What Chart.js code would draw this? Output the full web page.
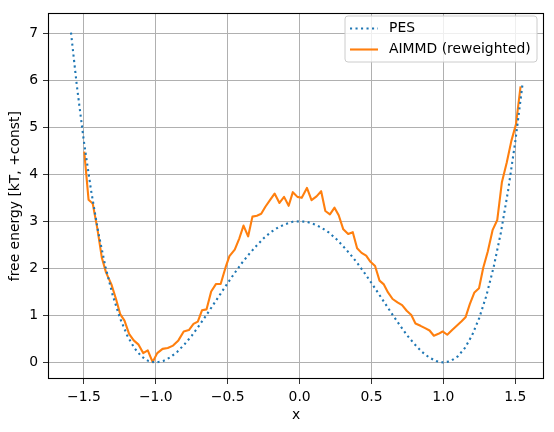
<!DOCTYPE html>
<html lang="en">

<head>
  <meta charset="UTF-8">
  <title>free energy</title>
  <style>
    body { margin: 0; background: #fff; }
  </style>
</head>

<body>
  <div style="width: 554px; height: 432px;">
    <canvas id="myChart" width="554" height="432"></canvas>
  </div>

  <script src="https://cdn.jsdelivr.net/npm/chart.js"></script>
  <script>
    // PES (dotted)
    const pesX = [-1.59, -1.55, -1.50, -1.45, -1.40, -1.35, -1.30, -1.25, -1.20, -1.15, -1.10, -1.05, -1.00,
      -0.95, -0.90, -0.85, -0.80, -0.75, -0.70, -0.65, -0.60, -0.55, -0.50, -0.45, -0.40, -0.35, -0.30,
      -0.25, -0.20, -0.15, -0.10, -0.05, 0.00, 0.05, 0.10, 0.15, 0.20, 0.25, 0.30, 0.35, 0.40, 0.45,
      0.50, 0.55, 0.60, 0.65, 0.70, 0.75, 0.80, 0.85, 0.90, 0.95, 1.00, 1.05, 1.10, 1.15, 1.20, 1.25,
      1.30, 1.35, 1.40, 1.45, 1.50, 1.55]
    const pesY = [7.01, 5.90, 4.69, 3.65, 2.76, 2.03, 1.43, 0.95, 0.58, 0.31, 0.13, 0.03, 0.00,
      0.03, 0.11, 0.23, 0.39, 0.57, 0.78, 1.00, 1.23, 1.46, 1.69, 1.91, 2.12, 2.31, 2.48,
      2.64, 2.77, 2.87, 2.94, 2.99, 3.00, 2.99, 2.94, 2.87, 2.77, 2.64, 2.48, 2.31, 2.12, 1.91,
      1.69, 1.46, 1.23, 1.00, 0.78, 0.57, 0.39, 0.23, 0.11, 0.03, 0.00, 0.03, 0.13, 0.31, 0.58, 0.95,
      1.43, 2.03, 2.76, 3.65, 4.69, 5.90]

    // AIMMD (reweighted)
    const aimmdX = [-1.498, -1.468, -1.439, -1.407, -1.375, -1.346, -1.309, -1.277, -1.248, -1.218, -1.186,
      -1.154, -1.120, -1.088, -1.056, -1.022, -0.990, -0.953, -0.917, -0.880, -0.843, -0.806, -0.770,
      -0.738, -0.708, -0.679, -0.647, -0.615, -0.581, -0.549, -0.512, -0.488, -0.451, -0.419, -0.390,
      -0.358, -0.328, -0.297, -0.267, -0.238, -0.206, -0.174, -0.140, -0.108, -0.076, -0.047, -0.015,
      0.015, 0.051, 0.083, 0.118, 0.150, 0.179, 0.211, 0.243, 0.272, 0.304, 0.338, 0.370, 0.400, 0.431,
      0.463, 0.493, 0.525, 0.556, 0.586, 0.615, 0.647, 0.681, 0.713, 0.745, 0.777, 0.806, 0.841, 0.873,
      0.904, 0.934, 0.966, 0.995, 1.027, 1.061, 1.093, 1.125, 1.154, 1.184, 1.216, 1.248, 1.277, 1.309,
      1.343, 1.375, 1.407, 1.441, 1.473, 1.505, 1.537]
    const aimmdY = [4.48, 3.46, 3.38, 2.85, 2.22, 1.91, 1.66, 1.35, 1.03, 0.89, 0.61,
      0.47, 0.38, 0.20, 0.26, 0.01, 0.20, 0.29, 0.31, 0.36, 0.47, 0.66, 0.69,
      0.82, 0.87, 1.11, 1.13, 1.51, 1.67, 1.67, 2.05, 2.26, 2.40, 2.64, 2.91,
      2.68, 3.10, 3.12, 3.16, 3.31, 3.45, 3.59, 3.39, 3.52, 3.33, 3.62, 3.52,
      3.50, 3.71, 3.45, 3.53, 3.64, 3.22, 3.15, 3.29, 3.13, 2.83, 2.73, 2.77, 2.43, 2.33,
      2.27, 2.14, 2.05, 1.74, 1.66, 1.49, 1.35, 1.28, 1.22, 1.10, 1.01, 0.83, 0.78, 0.73,
      0.68, 0.57, 0.61, 0.66, 0.59, 0.69, 0.78, 0.87, 0.96, 1.24, 1.49, 1.58, 2.01, 2.36,
      2.82, 3.03, 3.83, 4.25, 4.71, 5.06, 5.87]

    const xTicks = [-1.5, -1.0, -0.5, 0.0, 0.5, 1.0, 1.5]
    const yTicks = [0, 1, 2, 3, 4, 5, 6, 7]

    const FONT = { family: 'DejaVu Sans', size: 13.9 }
    const fmt = (v, d) => v.toFixed(d).replace('-', '\u2212')

    // box around the axes + matplotlib-like legend
    const framePlugin = {
      id: 'frame',
      afterDatasetsDraw(chart) {
        const { ctx, chartArea: a } = chart
        ctx.save()
        ctx.strokeStyle = '#000'
        ctx.lineWidth = 1.1
        ctx.strokeRect(Math.round(a.left) + 0.5, Math.round(a.top) + 0.5,
          Math.round(a.right - a.left) - 1, Math.round(a.bottom - a.top) - 1)

        // legend
        const bx = 345, by = 16, bw = 192, bh = 46, r = 3
        ctx.beginPath()
        ctx.moveTo(bx + r, by)
        ctx.arcTo(bx + bw, by, bx + bw, by + bh, r)
        ctx.arcTo(bx + bw, by + bh, bx, by + bh, r)
        ctx.arcTo(bx, by + bh, bx, by, r)
        ctx.arcTo(bx, by, bx + bw, by, r)
        ctx.closePath()
        ctx.fillStyle = 'rgba(255,255,255,0.8)'
        ctx.fill()
        ctx.strokeStyle = '#cccccc'
        ctx.lineWidth = 1
        ctx.stroke()

        chart.data.datasets.forEach((ds, i) => {
          const y = 28.5 + i * 21
          ctx.beginPath()
          ctx.setLineDash(ds.borderDash || [])
          ctx.strokeStyle = ds.borderColor
          ctx.lineWidth = ds.borderWidth
          ctx.lineCap = 'butt'
          ctx.moveTo(350, y)
          ctx.lineTo(378, y)
          ctx.stroke()
          ctx.setLineDash([])
          ctx.fillStyle = '#000'
          ctx.font = `${FONT.size}px ${FONT.family}`
          ctx.textBaseline = 'middle'
          ctx.fillText(ds.label, 389, y)
        })
        ctx.restore()
      }
    }

    const ctx = document.getElementById('myChart')

    new Chart(ctx, {
      type: 'line',
      data: {
        datasets: [
          {
            label: 'PES',
            data: pesX.map((x, i) => ({ x: x, y: pesY[i] })),
            borderColor: '#1f77b4',
            borderWidth: 2.1,
            borderDash: [2.1, 3.4],
            borderCapStyle: 'butt',
            pointRadius: 0,
            tension: 0
          },
          {
            label: 'AIMMD (reweighted)',
            data: aimmdX.map((x, i) => ({ x: x, y: aimmdY[i] })),
            borderColor: '#ff7f0e',
            borderWidth: 2.1,
            borderJoinStyle: 'round',
            pointRadius: 0,
            tension: 0
          }
        ]
      },
      options: {
        responsive: false,
        animation: false,
        layout: { padding: { top: 9, right: 10, left: 0, bottom: 0 } },
        plugins: { legend: { display: false }, tooltip: { enabled: false } },
        scales: {
          x: {
            type: 'linear',
            min: -1.75,
            max: 1.70,
            afterBuildTicks: (s) => { s.ticks = xTicks.map(v => ({ value: v })) },
            afterFit: (s) => { s.height = 53 },
            ticks: { color: '#000', font: FONT, padding: 5, maxRotation: 0, callback: (v) => fmt(v, 1) },
            grid: { color: '#b0b0b0', lineWidth: 1, tickLength: 5, tickColor: '#333', tickWidth: 1 },
            border: { display: false },
            title: { display: true, text: 'x', color: '#000', font: FONT, padding: { top: 0, bottom: 8 } }
          },
          y: {
            min: -0.35,
            max: 7.42,
            afterBuildTicks: (s) => { s.ticks = yTicks.map(v => ({ value: v })) },
            afterFit: (s) => { s.width = 48 },
            ticks: { color: '#000', font: FONT, padding: 5, callback: (v) => fmt(v, 0) },
            grid: { color: '#b0b0b0', lineWidth: 1, tickLength: 5, tickColor: '#333', tickWidth: 1 },
            border: { display: false },
            title: { display: true, text: 'free energy [kT, +const]', color: '#000', font: FONT, padding: { top: 7, bottom: 0 } }
          }
        }
      },
      plugins: [framePlugin]
    })
  </script>
</body>

</html>
